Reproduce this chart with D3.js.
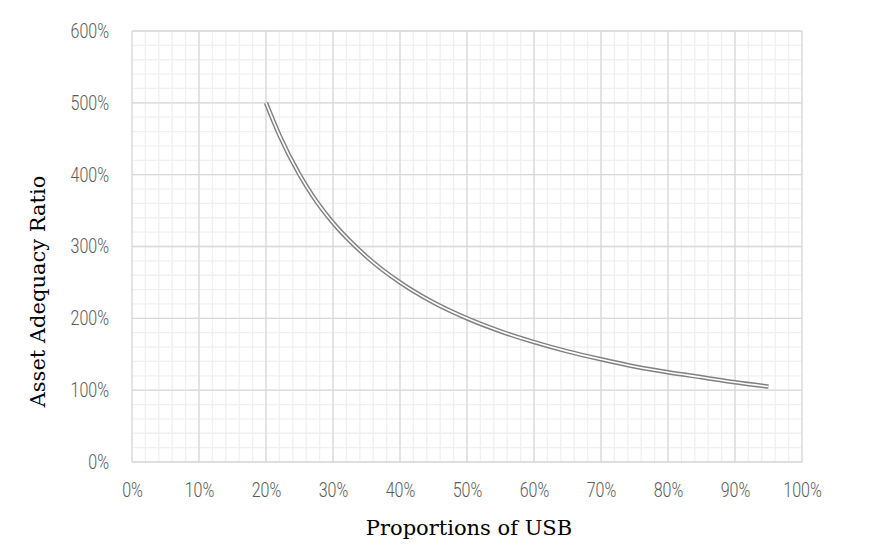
<!DOCTYPE html>
<html>
<head>
<meta charset="utf-8">
<script src="https://cdn.jsdelivr.net/npm/d3@7"></script>
<style>
  body { margin: 0; background: #fff; }
  svg { display: block; }
</style>
</head>
<body>
<div id="chart"></div>
<script>
// Proportion of USB (%) and the asset adequacy ratio (%)
const proportions = [20, 22, 25, 27, 30, 35, 40, 45, 50, 55, 60, 65, 70, 75, 80, 85, 90, 95];
const adequacy    = [500, 455, 400, 370, 333, 286, 250, 222, 200, 182, 167, 154, 143, 133, 125, 118, 111, 105];
const xTicks = [0, 10, 20, 30, 40, 50, 60, 70, 80, 90, 100];
const yTicks = [0, 100, 200, 300, 400, 500, 600];

const W = 886, H = 550;
const margin = { left: 132, right: 84, top: 31, bottom: 88 };
const squeeze = 0.8; // tick labels are a narrow face

const svg = d3.select("#chart").append("svg")
    .attr("width", W).attr("height", H);

const x = d3.scaleLinear().domain([0, 100]).range([margin.left, W - margin.right]);
const y = d3.scaleLinear().domain([0, 600]).range([H - margin.bottom, margin.top]);

// minor grid
const grid = svg.append("g");
d3.range(0, 100.01, 2).forEach(v => {
    grid.append("line")
        .attr("x1", x(v)).attr("x2", x(v))
        .attr("y1", y(0)).attr("y2", y(600))
        .attr("stroke", "#f0f0f0").attr("stroke-width", 1.3);
});
d3.range(0, 600.01, 20).forEach(v => {
    grid.append("line")
        .attr("x1", x(0)).attr("x2", x(100))
        .attr("y1", y(v)).attr("y2", y(v))
        .attr("stroke", "#f0f0f0").attr("stroke-width", 1.3);
});

// major grid
xTicks.forEach(v => {
    grid.append("line")
        .attr("x1", x(v)).attr("x2", x(v))
        .attr("y1", y(0)).attr("y2", y(600))
        .attr("stroke", "#d9d9d9").attr("stroke-width", 1.3);
});
yTicks.forEach(v => {
    grid.append("line")
        .attr("x1", x(0)).attr("x2", x(100))
        .attr("y1", y(v)).attr("y2", y(v))
        .attr("stroke", "#d9d9d9").attr("stroke-width", 1.3);
});

// axes (labels only)
const xAxis = svg.append("g")
    .attr("transform", `translate(0,${y(0)})`)
    .call(d3.axisBottom(x).tickValues(xTicks).tickSize(0).tickPadding(21).tickFormat(d => d + "%"));
const yAxis = svg.append("g")
    .attr("transform", `translate(${x(0)},0)`)
    .call(d3.axisLeft(y).tickValues(yTicks).tickSize(0).tickPadding(23).tickFormat(d => d + "%"));

[xAxis, yAxis].forEach(a => {
    a.select(".domain").remove();
    a.selectAll("text")
        .attr("fill", "#595959")
        .attr("transform", `scale(${squeeze},1)`)
        .style("font-family", "Roboto, sans-serif")
        .style("font-weight", 300)
        .style("font-size", "20px");
});
yAxis.selectAll("text").attr("x", -23 / squeeze);

// double line: grey outer with white core
const line = d3.line()
    .x((d, i) => x(proportions[i]))
    .y(d => y(d))
    .curve(d3.curveMonotoneX);

svg.append("path")
    .datum(adequacy)
    .attr("d", line)
    .attr("fill", "none")
    .attr("stroke", "#808080")
    .attr("stroke-width", 4.5);
svg.append("path")
    .datum(adequacy)
    .attr("d", line)
    .attr("fill", "none")
    .attr("stroke", "#ffffff")
    .attr("stroke-width", 1.6);

// axis titles
svg.append("text")
    .attr("x", 469).attr("y", 535)
    .attr("text-anchor", "middle")
    .style("font-family", "'DejaVu Serif', serif")
    .style("font-size", "21px")
    .attr("fill", "#000")
    .text("Proportions of USB");

svg.append("text")
    .attr("transform", `translate(45,291.5) rotate(-90)`)
    .attr("text-anchor", "middle")
    .style("font-family", "'DejaVu Serif', serif")
    .style("font-size", "21px")
    .attr("fill", "#000")
    .text("Asset Adequacy Ratio");
</script>
</body>
</html>
